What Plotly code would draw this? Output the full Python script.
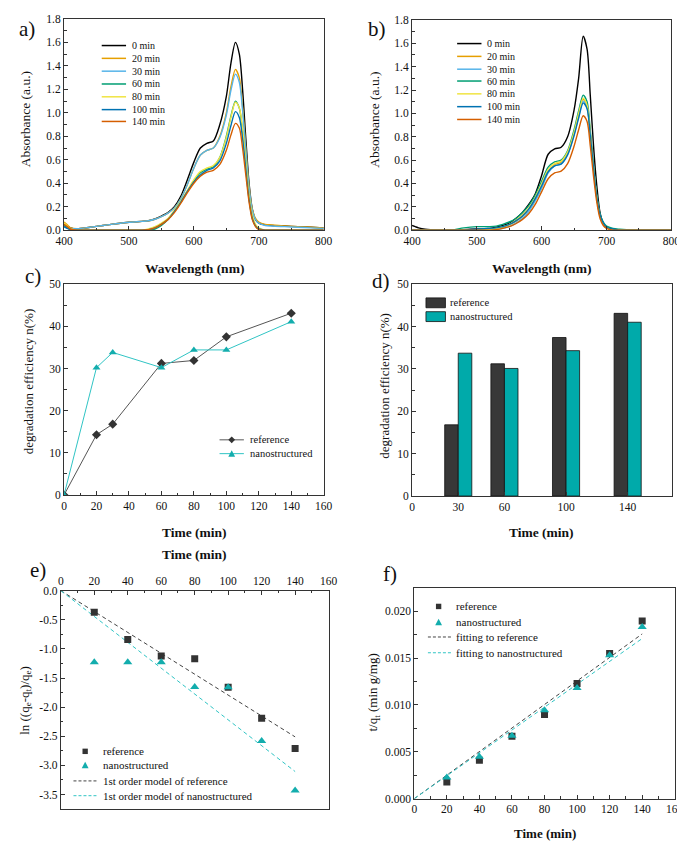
import plotly.graph_objects as go

W, H = 685, 842
def px(x): return x / W
def py(y): return 1 - y / H

FONT = "Liberation Serif"

# ---------------- data ----------------
wavelength = [400, 405, 410, 420, 440, 460, 480, 500, 520, 530, 540, 550, 560, 570, 580, 590, 600, 610, 620,
              630, 640, 650, 657, 664, 670, 675, 680, 685, 690, 695, 700, 710, 720, 740, 760, 780, 800]
spec_labels = ["0 min", "20 min", "30 min", "60 min", "80 min", "100 min", "140 min"]

a_0 = [0.05, 0.035, 0.02, 0.012, 0.025, 0.04, 0.055, 0.068, 0.075, 0.08, 0.095, 0.12, 0.15, 0.2, 0.29, 0.43, 0.58, 0.7, 0.74,
       0.76, 0.9, 1.14, 1.42, 1.6, 1.5, 1.2, 0.78, 0.4, 0.18, 0.09, 0.06, 0.045, 0.04, 0.035, 0.03, 0.025, 0.02]
a_20 = [0.07, 0.045, 0.02, 0.012, 0.025, 0.04, 0.055, 0.068, 0.075, 0.08, 0.093, 0.115, 0.145, 0.19, 0.27, 0.39, 0.53, 0.64, 0.68,
        0.7, 0.8, 1.0, 1.22, 1.37, 1.3, 1.05, 0.7, 0.37, 0.18, 0.1, 0.07, 0.05, 0.045, 0.035, 0.03, 0.025, 0.02]
a_30 = [0.03, 0.02, 0.015, 0.012, 0.025, 0.04, 0.055, 0.068, 0.075, 0.08, 0.093, 0.115, 0.145, 0.19, 0.27, 0.39, 0.53, 0.64, 0.68,
        0.7, 0.79, 0.98, 1.19, 1.33, 1.26, 1.02, 0.68, 0.36, 0.17, 0.09, 0.06, 0.04, 0.035, 0.03, 0.025, 0.02, 0.015]
a_60 = [0.04, 0.02, 0.005, 0.0, 0.0, 0.0, 0.0, 0.0, 0.0, 0.0, 0.01, 0.04, 0.09, 0.16, 0.24, 0.33, 0.42, 0.49, 0.52,
        0.54, 0.62, 0.8, 0.97, 1.1, 1.04, 0.84, 0.56, 0.28, 0.11, 0.04, 0.01, 0.0, 0.0, 0.0, 0.0, 0.0, 0.0]
a_80 = [0.06, 0.035, 0.01, 0.0, 0.0, 0.0, 0.0, 0.0, 0.0, 0.01, 0.03, 0.06, 0.1, 0.17, 0.25, 0.34, 0.43, 0.5, 0.53,
        0.55, 0.62, 0.79, 0.96, 1.09, 1.04, 0.86, 0.58, 0.3, 0.13, 0.05, 0.02, 0.0, 0.0, 0.0, 0.0, 0.0, 0.0]
a_100 = [0.03, 0.015, 0.005, 0.0, 0.0, 0.0, 0.0, 0.0, 0.0, 0.005, 0.02, 0.05, 0.09, 0.16, 0.24, 0.33, 0.41, 0.47, 0.51,
         0.53, 0.59, 0.74, 0.89, 1.01, 0.96, 0.78, 0.52, 0.26, 0.1, 0.035, 0.01, 0.0, 0.0, 0.0, 0.0, 0.0, 0.0]
a_140 = [0.05, 0.03, 0.01, 0.0, 0.0, 0.0, 0.0, 0.0, 0.0, 0.005, 0.02, 0.05, 0.09, 0.15, 0.23, 0.32, 0.4, 0.46, 0.495,
         0.51, 0.56, 0.68, 0.81, 0.91, 0.87, 0.7, 0.47, 0.24, 0.09, 0.03, 0.005, 0.0, 0.0, 0.0, 0.0, 0.0, 0.0]

b_0 = [0.04, 0.03, 0.02, 0.008, 0.0, 0.0, 0.005, 0.01, 0.015, 0.025, 0.04, 0.06, 0.1, 0.15, 0.22, 0.31, 0.47, 0.65, 0.695,
       0.71, 0.8, 1.03, 1.3, 1.66, 1.55, 1.15, 0.72, 0.38, 0.15, 0.06, 0.025, 0.005, 0.0, 0.0, 0.0, 0.0, 0.0]
b_20 = [0.0, 0.0, 0.0, 0.0, 0.0, 0.0, 0.0, 0.005, 0.01, 0.015, 0.025, 0.045, 0.075, 0.12, 0.18, 0.26, 0.37, 0.5, 0.56,
        0.58, 0.66, 0.83, 0.99, 1.12, 1.06, 0.82, 0.52, 0.27, 0.12, 0.05, 0.02, 0.005, 0.0, 0.0, 0.0, 0.0, 0.0]
b_30 = [0.0, 0.0, 0.0, 0.0, 0.0, 0.0, 0.0, 0.0, 0.0, 0.005, 0.015, 0.03, 0.06, 0.1, 0.16, 0.25, 0.36, 0.49, 0.55,
        0.57, 0.65, 0.82, 0.97, 1.105, 1.05, 0.82, 0.53, 0.28, 0.12, 0.05, 0.02, 0.005, 0.0, 0.0, 0.0, 0.0, 0.0]
b_60 = [0.0, 0.0, 0.0, 0.0, 0.0, 0.0, 0.02, 0.03, 0.03, 0.035, 0.05, 0.07, 0.1, 0.15, 0.21, 0.3, 0.42, 0.54, 0.585,
        0.6, 0.68, 0.86, 1.02, 1.156, 1.1, 0.85, 0.55, 0.3, 0.14, 0.07, 0.035, 0.015, 0.008, 0.0, 0.0, 0.0, 0.0]
b_80 = [0.0, 0.0, 0.0, 0.0, 0.0, 0.0, 0.0, 0.005, 0.01, 0.015, 0.03, 0.05, 0.085, 0.13, 0.19, 0.28, 0.4, 0.52, 0.572,
        0.59, 0.67, 0.84, 1.0, 1.13, 1.07, 0.83, 0.53, 0.28, 0.12, 0.05, 0.02, 0.005, 0.0, 0.0, 0.0, 0.0, 0.0]
b_100 = [0.0, 0.0, 0.0, 0.0, 0.0, 0.0, 0.0, 0.01, 0.015, 0.02, 0.03, 0.05, 0.08, 0.12, 0.18, 0.27, 0.38, 0.5, 0.55,
         0.565, 0.645, 0.81, 0.96, 1.09, 1.04, 0.81, 0.53, 0.28, 0.13, 0.06, 0.025, 0.01, 0.0, 0.0, 0.0, 0.0, 0.0]
b_140 = [0.0, 0.0, 0.0, 0.0, 0.0, 0.0, 0.0, 0.0, 0.0, 0.005, 0.015, 0.03, 0.055, 0.09, 0.14, 0.22, 0.33, 0.44, 0.49,
         0.505, 0.57, 0.72, 0.86, 0.98, 0.93, 0.72, 0.46, 0.24, 0.1, 0.04, 0.015, 0.0, 0.0, 0.0, 0.0, 0.0, 0.0]

spec_colors = ["#000000", "#E69F00", "#56B4E9", "#009E73", "#F0E442", "#0072B2", "#D55E00"]

# panel c / d
time_c = [0, 20, 30, 60, 80, 100, 140]
eff_ref = [0, 14.3, 16.8, 31.2, 31.9, 37.5, 43.1]
eff_nano = [0, 30.2, 33.8, 30.2, 34.4, 34.4, 41.1]
time_d = [30, 60, 100, 140]
bar_ref = [16.8, 31.2, 37.4, 43.1]
bar_nano = [33.7, 30.1, 34.3, 41.0]
d_ticks = [0, 30, 60, 100, 140]

# panel e
time_e = [20, 40, 60, 80, 100, 120, 140]
ln_ref = [-0.37, -0.84, -1.12, -1.17, -1.66, -2.19, -2.71]
ln_nano = [-1.23, -1.23, -1.23, -1.655, -1.66, -2.58, -3.43]
fit_t = [0, 140]
fit_e_ref = [0, -2.51]
fit_e_nano = [0, -3.105]
e_yticks = [0.0, -0.5, -1.0, -1.5, -2.0, -2.5, -3.0, -3.5]
e_yticktext = ["0.0", "-0.5", "-1.0", "-1.5", "-2.0", "-2.5", "-3.0", "-3.5"]

# panel f
tq_ref = [0.00179, 0.0041, 0.00667, 0.00898, 0.01228, 0.01547, 0.01895]
tq_nano = [0.00225, 0.00446, 0.0067, 0.00944, 0.01179, 0.0153, 0.01832]
fit_f_ref = [0, 0.01757]
fit_f_nano = [0, 0.01708]

REF_C = "#333333"
NANO_C = "#13ADAD"
NANO_LINE = "#30C4C4"

fig = go.Figure()

a_sets = [a_0, a_20, a_30, a_60, a_80, a_100, a_140]
b_sets = [b_0, b_20, b_30, b_60, b_80, b_100, b_140]
for ys, c in zip(a_sets, spec_colors):
    fig.add_trace(go.Scatter(x=wavelength, y=ys, mode="lines", line=dict(color=c, width=1.4, shape="spline", smoothing=0.8),
                             xaxis="x", yaxis="y", showlegend=False))
for ys, c in zip(b_sets, spec_colors):
    fig.add_trace(go.Scatter(x=wavelength, y=ys, mode="lines", line=dict(color=c, width=1.4, shape="spline", smoothing=0.8),
                             xaxis="x2", yaxis="y2", showlegend=False))

# c
fig.add_trace(go.Scatter(x=time_c, y=eff_ref, mode="lines+markers", line=dict(color="#555555", width=1),
                         marker=dict(symbol="diamond", size=7, color=REF_C), xaxis="x3", yaxis="y3", showlegend=False))
fig.add_trace(go.Scatter(x=time_c, y=eff_nano, mode="lines+markers", line=dict(color=NANO_LINE, width=1),
                         marker=dict(symbol="triangle-up", size=7, color=NANO_C), xaxis="x3", yaxis="y3", showlegend=False))
# d
fig.add_trace(go.Bar(x=time_d, y=bar_ref, width=8.8, offset=-8.8, marker=dict(color="#383838", line=dict(color="#111", width=0.8)),
                     xaxis="x4", yaxis="y4", showlegend=False))
fig.add_trace(go.Bar(x=time_d, y=bar_nano, width=8.8, offset=0, marker=dict(color="#00AAAA", line=dict(color="#111", width=0.8)),
                     xaxis="x4", yaxis="y4", showlegend=False))
# e
fig.add_trace(go.Scatter(x=fit_t, y=fit_e_ref, mode="lines", line=dict(color="#444444", width=1, dash="4px,3px"),
                         xaxis="x5", yaxis="y5", showlegend=False))
fig.add_trace(go.Scatter(x=fit_t, y=fit_e_nano, mode="lines", line=dict(color=NANO_LINE, width=1, dash="4px,3px"),
                         xaxis="x5", yaxis="y5", showlegend=False))
fig.add_trace(go.Scatter(x=time_e, y=ln_ref, mode="markers", marker=dict(symbol="square", size=7, color=REF_C),
                         xaxis="x5", yaxis="y5", showlegend=False))
fig.add_trace(go.Scatter(x=time_e, y=ln_nano, mode="markers", marker=dict(symbol="triangle-up", size=8, color=NANO_C),
                         xaxis="x5", yaxis="y5", showlegend=False))
# f
fig.add_trace(go.Scatter(x=fit_t, y=fit_f_ref, mode="lines", line=dict(color="#444444", width=1, dash="4px,3px"),
                         xaxis="x6", yaxis="y6", showlegend=False))
fig.add_trace(go.Scatter(x=fit_t, y=fit_f_nano, mode="lines", line=dict(color=NANO_LINE, width=1, dash="4px,3px"),
                         xaxis="x6", yaxis="y6", showlegend=False))
fig.add_trace(go.Scatter(x=time_e, y=tq_ref, mode="markers", marker=dict(symbol="square", size=7, color=REF_C),
                         xaxis="x6", yaxis="y6", showlegend=False))
fig.add_trace(go.Scatter(x=time_e, y=tq_nano, mode="markers", marker=dict(symbol="triangle-up", size=8, color=NANO_C),
                         xaxis="x6", yaxis="y6", showlegend=False))

tickfont = dict(family=FONT, size=11.5, color="#111")

def ax(domain, rng, anchor, **kw):
    d = dict(domain=domain, range=rng, anchor=anchor, showgrid=False, zeroline=False, showline=True, mirror=True,
             linecolor="#333", linewidth=1, ticks="inside", ticklen=4, tickcolor="#333", tickfont=tickfont)
    d.update(kw)
    return d

minor = lambda dt: dict(ticks="inside", ticklen=2.5, dtick=dt, tickcolor="#333")

fig.update_layout(
    width=W, height=H, margin=dict(l=0, r=0, t=0, b=0), paper_bgcolor="white", plot_bgcolor="white",
    showlegend=False, barmode="overlay",
    xaxis=ax([px(48.3), px(315)], [400, 800], "y", dtick=100, minor=minor(50)),
    yaxis=ax([py(219.3), py(5)], [0, 1.8], "x", dtick=0.2, tickformat=".1f", minor=minor(0.1)),
    xaxis2=ax([px(405.7), px(672)], [400, 800], "y2", dtick=100, minor=minor(50)),
    yaxis2=ax([py(219.3), py(6)], [0, 1.8], "x2", dtick=0.2, tickformat=".1f", minor=minor(0.1)),
    xaxis3=ax([px(48.3), px(315)], [0, 160], "y3", dtick=20, minor=minor(10)),
    yaxis3=ax([py(488), py(274)], [0, 50], "x3", dtick=10, minor=minor(5)),
    xaxis4=ax([px(405.7), px(673)], [0, 169], "y4", tickmode="array", tickvals=d_ticks),
    yaxis4=ax([py(489), py(274)], [0, 50], "x4", dtick=10, minor=minor(5)),
    xaxis5=ax([px(45), px(320)], [0, 160], "y5", side="top", dtick=20, minor=minor(10)),
    yaxis5=ax([py(806), py(585)], [-3.74, 0], "x5", tickmode="array", tickvals=e_yticks, ticktext=e_yticktext,
              minor=dict(ticks="inside", ticklen=2.5, tickvals=[-0.25, -0.75, -1.25, -1.75, -2.25, -2.75, -3.25, -3.75], tickcolor="#333")),
    xaxis6=ax([px(408), px(675.5)], [0, 160], "y6", dtick=20, minor=minor(10)),
    yaxis6=ax([py(796), py(582)], [0, 0.0225], "x6", dtick=0.005, tickformat=".3f", minor=minor(0.0025)),
)

anns = []
def text(x, y, s, size=10.5, xanchor="left", bold=False, angle=0, family=FONT):
    anns.append(dict(x=px(x), y=py(y), xref="paper", yref="paper", text=("<b>%s</b>" % s) if bold else s,
                     showarrow=False, xanchor=xanchor, yanchor="middle", textangle=angle,
                     font=dict(family=family, size=size, color="#111")))

shapes = []
def seg(x0, x1, y, color, dash="solid", width=1.5):
    shapes.append(dict(type="line", xref="paper", yref="paper", x0=px(x0), x1=px(x1), y0=py(y), y1=py(y),
                       line=dict(color=color, width=width, dash=dash)))
def square(cx, cy, s, color):
    shapes.append(dict(type="rect", xref="paper", yref="paper", x0=px(cx - s / 2), x1=px(cx + s / 2),
                       y0=py(cy + s / 2), y1=py(cy - s / 2), fillcolor=color, line=dict(width=0)))
def tri(cx, cy, s, color):
    path = "M %f,%f L %f,%f L %f,%f Z" % (px(cx - s / 2), py(cy + s / 2.3), px(cx + s / 2), py(cy + s / 2.3), px(cx), py(cy - s / 2))
    shapes.append(dict(type="path", xref="paper", yref="paper", path=path, fillcolor=color, line=dict(width=0)))
def diamond(cx, cy, s, color):
    path = "M %f,%f L %f,%f L %f,%f L %f,%f Z" % (px(cx), py(cy - s), px(cx + s), py(cy), px(cx), py(cy + s), px(cx - s), py(cy))
    shapes.append(dict(type="path", xref="paper", yref="paper", path=path, fillcolor=color, line=dict(width=0)))

# panel labels
text(10, 15, "a)", size=21, xanchor="center")
text(370, 15, "b)", size=21, xanchor="center")
text(16, 266, "c)", size=21, xanchor="center")
text(374, 271, "d)", size=21, xanchor="center")
text(22, 564, "e)", size=21, xanchor="center")
text(383, 568, "f)", size=21, xanchor="center")

# axis titles
text(9, 107, "Absorbance (a.u.)", size=13.5, xanchor="center", angle=-90)
text(367, 107, "Absorbance (a.u.)", size=13.5, xanchor="center", angle=-90)
text(182, 258, "Wavelength (nm)", size=13.5, xanchor="center", bold=True)
text(539, 258, "Wavelength (nm)", size=13.5, xanchor="center", bold=True)
text(12, 373, "degradation efficiency n(%)", size=13, xanchor="center", angle=-90)
text(378, 377, "degradation efficiency n(%)", size=13, xanchor="center", angle=-90)
text(182, 526, "Time (min)", size=13.5, xanchor="center", bold=True)
text(539, 526, "Time (min)", size=13.5, xanchor="center", bold=True)
text(182, 548, "Time (min)", size=13.5, xanchor="center", bold=True)
text(8, 696, "ln ((q<sub>e</sub>-q<sub>t</sub>)/q<sub>e</sub>)", size=13, xanchor="center", angle=-90)
text(366, 688, "t/q<sub>t</sub> (min g/mg)", size=13, xanchor="center", angle=-90)
text(542, 831, "Time (min)", size=13, xanchor="center", bold=True)

# legends a & b
rows_a = [32, 45, 58, 71, 84, 97, 109]
rows_b = [30, 43, 56, 68, 81, 94, 107]
for lab, c, ya, yb in zip(spec_labels, spec_colors, rows_a, rows_b):
    seg(87, 112, ya, c)
    text(116, ya, lab, size=10)
    seg(452, 477, yb, c)
    text(481, yb, lab, size=10)

# legend c
seg(208, 233, 432, "#555555", width=1)
diamond(220.5, 432, 3.5, REF_C)
text(237, 432, "reference", size=10.5)
seg(208, 233, 446, NANO_LINE, width=1)
tri(220.5, 446, 7, NANO_C)
text(237, 446, "nanostructured", size=10.5)

# legend d
shapes.append(dict(type="rect", xref="paper", yref="paper", x0=px(420), x1=px(440), y0=py(298), y1=py(288),
                   fillcolor="#383838", line=dict(color="#111", width=0.8)))
shapes.append(dict(type="rect", xref="paper", yref="paper", x0=px(420), x1=px(440), y0=py(312), y1=py(302),
                   fillcolor="#00AAAA", line=dict(color="#111", width=0.8)))
text(443, 293, "reference", size=10.5)
text(443, 307, "nanostructured", size=10.5)

# legend e
square(70, 748, 5.5, REF_C)
text(86, 748, "reference", size=11)
tri(70, 762, 7, NANO_C)
text(86, 762, "nanostructured", size=11)
seg(58, 82, 778, "#444444", dash="3px,2px", width=1)
text(86, 778, "1st order model of reference", size=11)
seg(58, 82, 793, NANO_LINE, dash="3px,2px", width=1)
text(86, 793, "1st order model of nanostructured", size=11)

# legend f
square(433, 601, 5.5, REF_C)
text(449, 601, "reference", size=11)
tri(433, 617, 7, NANO_C)
text(449, 617, "nanostructured", size=11)
seg(422, 447, 632, "#444444", dash="3px,2px", width=1)
text(449, 632, "fitting to reference", size=11)
seg(422, 447, 648, NANO_LINE, dash="3px,2px", width=1)
text(449, 648, "fitting to nanostructured", size=11)

fig.update_layout(annotations=anns, shapes=shapes)
fig.write_html("out.html")
